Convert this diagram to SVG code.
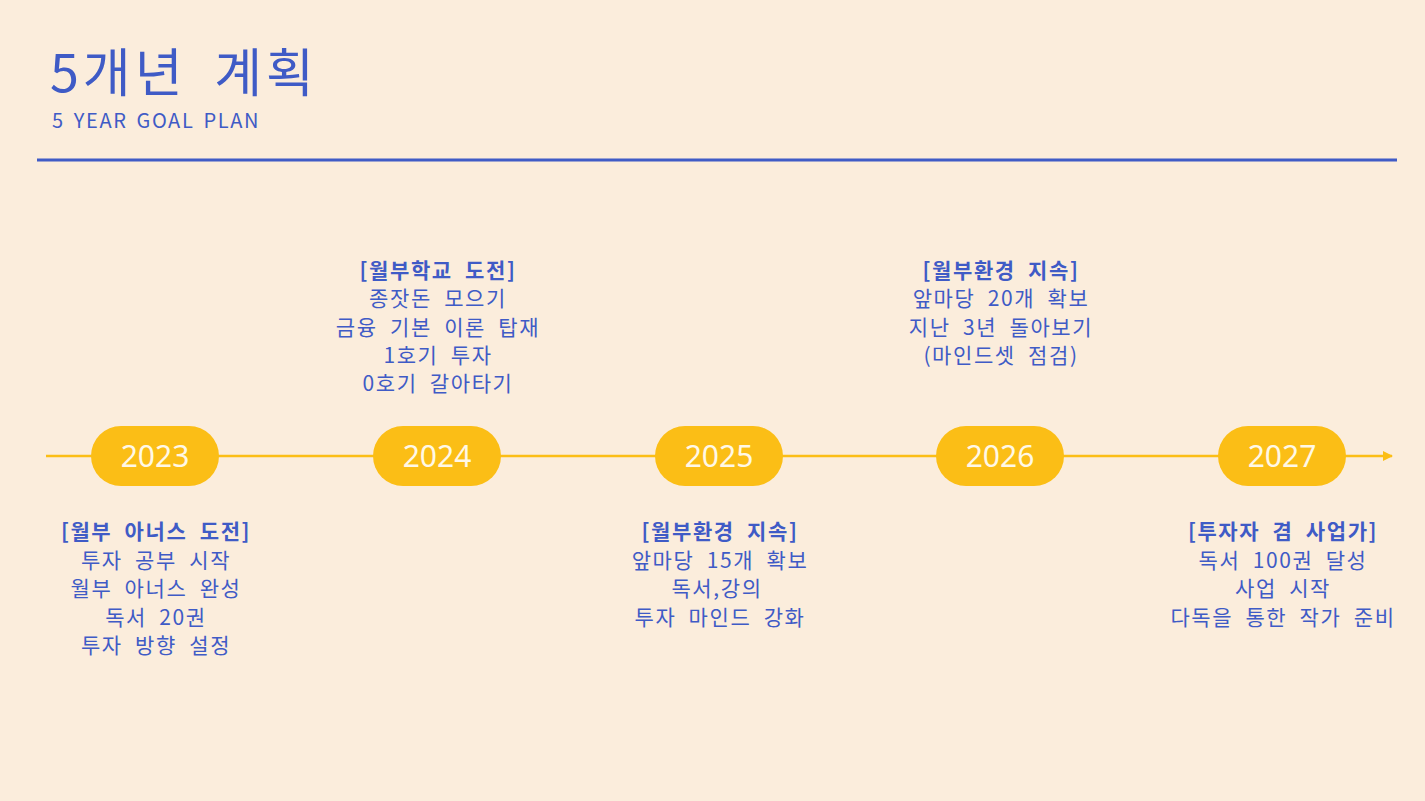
<svg xmlns="http://www.w3.org/2000/svg" width="1425" height="801" viewBox="0 0 1425 801">
<defs>
<style>
.t{font-family:"Noto Sans CJK KR","Noto Sans",sans-serif;fill:#3F5BC6;}
.h{font-size:52px;letter-spacing:4px;word-spacing:12px;}
.s{font-size:20px;letter-spacing:1.6px;word-spacing:3px;}
.d{font-size:21px;text-anchor:middle;letter-spacing:1.6px;word-spacing:6px;}
.b{font-weight:bold;}
.pill{fill:#FBBE16;}
.yr{font-family:"Noto Sans","Noto Sans CJK KR",sans-serif;font-size:30px;fill:#FFF8E6;text-anchor:middle;}
</style>
<marker id="arr" viewBox="0 0 10 10" refX="9" refY="5" markerWidth="10" markerHeight="10" markerUnits="userSpaceOnUse" orient="auto">
<path d="M0,0 L10,5 L0,10 Z" fill="#FBBE16"/>
</marker>
</defs>
<rect width="1425" height="801" fill="#FBEDDC"/>
<g id="header">
<text class="t h" x="50" y="92">5개년 계획</text>
<text class="t s" x="52" y="128">5 YEAR GOAL PLAN</text>
<line x1="37" y1="160" x2="1397" y2="160" stroke="#3F5BC6" stroke-width="3"/>
</g>
<g id="connectors">
<line x1="46" y1="456" x2="1392" y2="456" stroke="#FBBE16" stroke-width="2.5" marker-end="url(#arr)"/>
</g>
<g id="y2023">
<rect class="pill" x="91" y="426" width="128" height="60" rx="30"/>
<text class="yr" x="155" y="467">2023</text>
<text class="t d b" x="156" y="539">[월부 아너스 도전]</text>
<text class="t d" x="156" y="568">투자 공부 시작</text>
<text class="t d" x="156" y="596">월부 아너스 완성</text>
<text class="t d" x="156" y="625">독서 20권</text>
<text class="t d" x="156" y="653">투자 방향 설정</text>
</g>
<g id="y2024">
<rect class="pill" x="373" y="426" width="128" height="60" rx="30"/>
<text class="yr" x="437" y="467">2024</text>
<text class="t d b" x="438" y="278">[월부학교 도전]</text>
<text class="t d" x="438" y="306">종잣돈 모으기</text>
<text class="t d" x="438" y="335">금융 기본 이론 탑재</text>
<text class="t d" x="438" y="363">1호기 투자</text>
<text class="t d" x="438" y="391">0호기 갈아타기</text>
</g>
<g id="y2025">
<rect class="pill" x="655" y="426" width="128" height="60" rx="30"/>
<text class="yr" x="719" y="467">2025</text>
<text class="t d b" x="720" y="539">[월부환경 지속]</text>
<text class="t d" x="720" y="568">앞마당 15개 확보</text>
<text class="t d" x="717" y="596">독서,강의</text>
<text class="t d" x="720" y="625">투자 마인드 강화</text>
</g>
<g id="y2026">
<rect class="pill" x="936" y="426" width="128" height="60" rx="30"/>
<text class="yr" x="1000" y="467">2026</text>
<text class="t d b" x="1001" y="278">[월부환경 지속]</text>
<text class="t d" x="1001" y="306">앞마당 20개 확보</text>
<text class="t d" x="1001" y="335">지난 3년 돌아보기</text>
<text class="t d" x="1001" y="363">(마인드셋 점검)</text>
</g>
<g id="y2027">
<rect class="pill" x="1218" y="426" width="128" height="60" rx="30"/>
<text class="yr" x="1282" y="467">2027</text>
<text class="t d b" x="1283" y="539">[투자자 겸 사업가]</text>
<text class="t d" x="1283" y="568">독서 100권 달성</text>
<text class="t d" x="1283" y="596">사업 시작</text>
<text class="t d" x="1283" y="625">다독을 통한 작가 준비</text>
</g>
</svg>
